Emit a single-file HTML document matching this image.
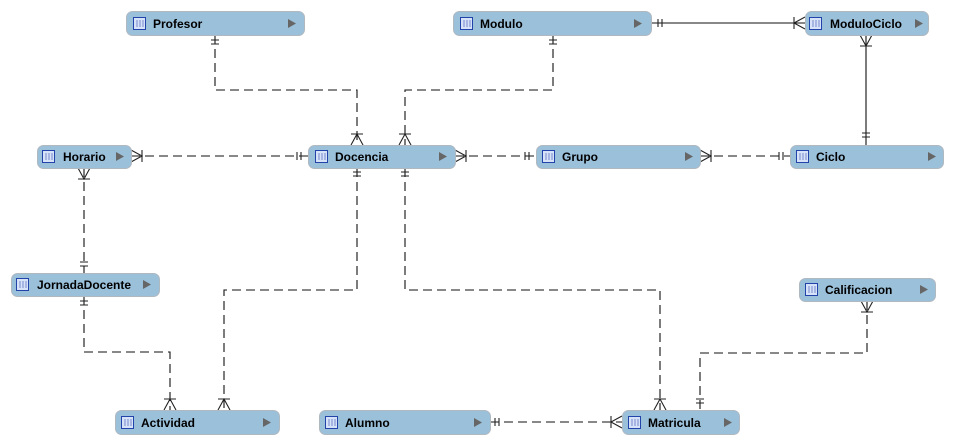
<!DOCTYPE html>
<html><head><style>
html,body{margin:0;padding:0;background:#fff;width:953px;height:444px;overflow:hidden}
text{font-family:"Liberation Sans",sans-serif;font-size:12px;font-weight:bold;fill:#000}
</style></head><body>
<svg width="953" height="444" xmlns="http://www.w3.org/2000/svg">
<g fill="none" stroke="#111" stroke-width="1.1" stroke-dasharray="9,5">
<path d="M215 35V90H357V145"/>
<path d="M553 35V90H405V145"/>
<path d="M131 156H308"/>
<path d="M455 156H536"/>
<path d="M700 156H790"/>
<path d="M84 168V273"/>
<path d="M84 296V352H170V410"/>
<path d="M357 168V290H224V410"/>
<path d="M405 168V290H660V410"/>
<path d="M867 301V353H700V410"/>
<path d="M490 422H622"/>
</g>
<g fill="none" stroke="#111" stroke-width="1.1">
<path d="M651 23H805"/>
<path d="M866 35V145"/>
</g>
<g fill="none" stroke="#222" stroke-width="1.1">
<path d="M211 40H219M211 44H219"/>
<path d="M549 40H557M549 44H557"/>
<path d="M353 172H361M353 176H361"/>
<path d="M401 172H409M401 176H409"/>
<path d="M80 301H88M80 305H88"/>
<path d="M80 262H88M80 266H88"/>
<path d="M862 133H870M862 137H870"/>
<path d="M696 399H704M696 403H704"/>
<path d="M658 19V27M662 19V27"/>
<path d="M297 152V160M301 152V160"/>
<path d="M525 152V160M529 152V160"/>
<path d="M779 152V160M783 152V160"/>
<path d="M495 418V426M499 418V426"/>
<path d="M351 145L357 134L363 145M351 134H363"/>
<path d="M399 145L405 134L411 145M399 134H411"/>
<path d="M164 410L170 399L176 410M164 399H176"/>
<path d="M218 410L224 399L230 410M218 399H230"/>
<path d="M654 410L660 399L666 410M654 399H666"/>
<path d="M131 150L142 156L131 162M142 150V162"/>
<path d="M455 150L466 156L455 162M466 150V162"/>
<path d="M700 150L711 156L700 162M711 150V162"/>
<path d="M805 17L794 23L805 29M794 17V29"/>
<path d="M622 416L611 422L622 428M611 416V428"/>
<path d="M78 168L84 179L90 168M78 179H90"/>
<path d="M860 35L866 46L872 35M860 46H872"/>
<path d="M861 301L867 312L873 301M861 312H873"/>
</g>
<defs>
<g id="ic"><rect x="0.5" y="0.5" width="12" height="12" fill="#d6e2f8" stroke="#2244aa"/><path d="M4 3V10M7 3V10M10 3V10" stroke="#7788cc"/></g>
</defs>
<g>
<g transform="translate(126,11)"><rect x="0.5" y="0.5" width="178" height="24" rx="6" fill="#9bc0da" stroke="#b0b8c0"/><use href="#ic" x="7" y="6"/><text x="27" y="17">Profesor</text><path d="M162 8L170 12.5L162 17Z" fill="#666"/></g>
<g transform="translate(453,11)"><rect x="0.5" y="0.5" width="198" height="24" rx="6" fill="#9bc0da" stroke="#b0b8c0"/><use href="#ic" x="7" y="6"/><text x="27" y="17">Modulo</text><path d="M181 8L189 12.5L181 17Z" fill="#666"/></g>
<g transform="translate(805,11)"><rect x="0.5" y="0.5" width="123" height="24" rx="6" fill="#9bc0da" stroke="#b0b8c0"/><use href="#ic" x="4" y="6"/><text x="25" y="17">ModuloCiclo</text><path d="M110 8L118 12.5L110 17Z" fill="#666"/></g>
<g transform="translate(37,145)"><rect x="0.5" y="0.5" width="94" height="23" rx="6" fill="#9bc0da" stroke="#b0b8c0"/><use href="#ic" x="5" y="5"/><text x="26" y="16">Horario</text><path d="M79 7L87 11.5L79 16Z" fill="#666"/></g>
<g transform="translate(308,145)"><rect x="0.5" y="0.5" width="147" height="23" rx="6" fill="#9bc0da" stroke="#b0b8c0"/><use href="#ic" x="7" y="5"/><text x="27" y="16">Docencia</text><path d="M131 7L139 11.5L131 16Z" fill="#666"/></g>
<g transform="translate(536,145)"><rect x="0.5" y="0.5" width="164" height="23" rx="6" fill="#9bc0da" stroke="#b0b8c0"/><use href="#ic" x="6" y="5"/><text x="26" y="16">Grupo</text><path d="M149 7L157 11.5L149 16Z" fill="#666"/></g>
<g transform="translate(790,145)"><rect x="0.5" y="0.5" width="153" height="23" rx="6" fill="#9bc0da" stroke="#b0b8c0"/><use href="#ic" x="6" y="5"/><text x="26" y="16">Ciclo</text><path d="M138 7L146 11.5L138 16Z" fill="#666"/></g>
<g transform="translate(11,273)"><rect x="0.5" y="0.5" width="148" height="23" rx="6" fill="#9bc0da" stroke="#b0b8c0"/><use href="#ic" x="5" y="5"/><text x="26" y="16">JornadaDocente</text><path d="M132 7L140 11.5L132 16Z" fill="#666"/></g>
<g transform="translate(799,278)"><rect x="0.5" y="0.5" width="136" height="23" rx="6" fill="#9bc0da" stroke="#b0b8c0"/><use href="#ic" x="6" y="5"/><text x="26" y="16">Calificacion</text><path d="M121 7L129 11.5L121 16Z" fill="#666"/></g>
<g transform="translate(115,410)"><rect x="0.5" y="0.5" width="164" height="24" rx="6" fill="#9bc0da" stroke="#b0b8c0"/><use href="#ic" x="6" y="6"/><text x="26" y="17">Actividad</text><path d="M148 8L156 12.5L148 17Z" fill="#666"/></g>
<g transform="translate(319,410)"><rect x="0.5" y="0.5" width="171" height="24" rx="6" fill="#9bc0da" stroke="#b0b8c0"/><use href="#ic" x="6" y="6"/><text x="26" y="17">Alumno</text><path d="M155 8L163 12.5L155 17Z" fill="#666"/></g>
<g transform="translate(622,410)"><rect x="0.5" y="0.5" width="117" height="24" rx="6" fill="#9bc0da" stroke="#b0b8c0"/><use href="#ic" x="6" y="6"/><text x="26" y="17">Matricula</text><path d="M102 8L110 12.5L102 17Z" fill="#666"/></g>
</g>
</svg>
</body></html>
